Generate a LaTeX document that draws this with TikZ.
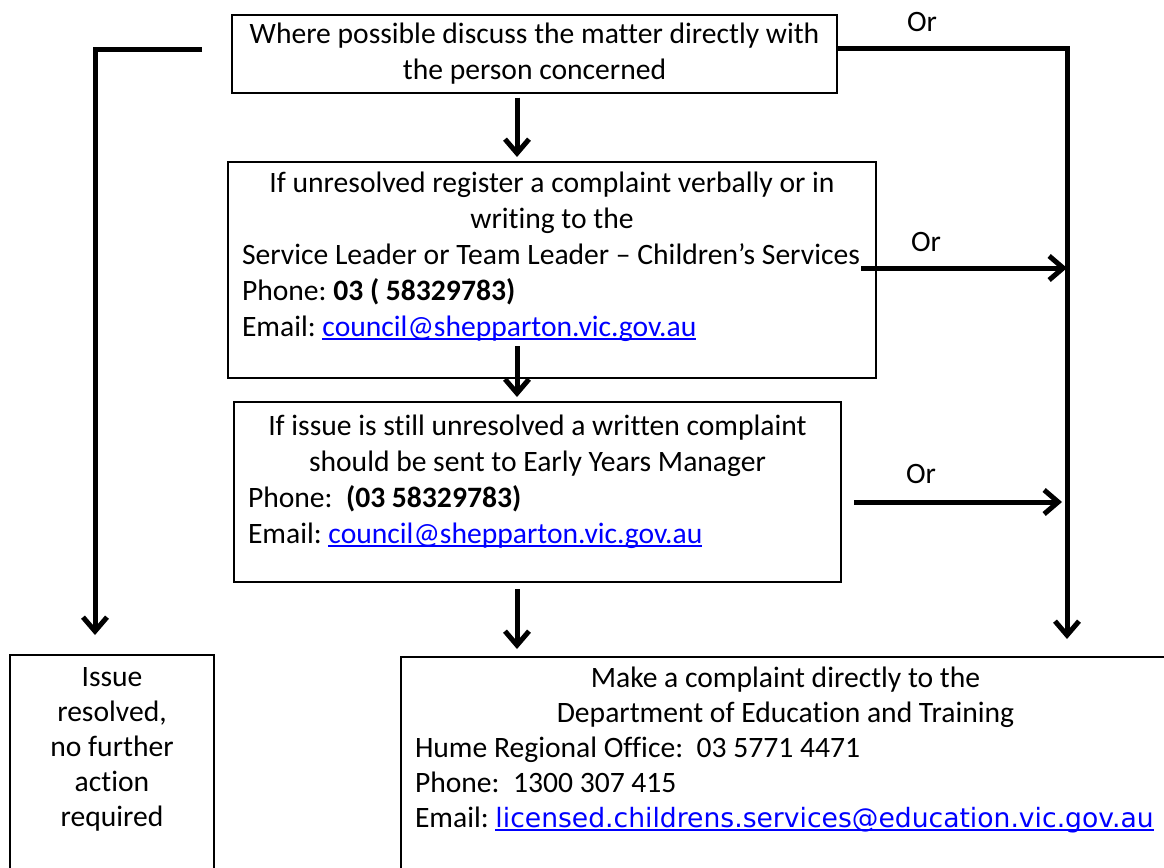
\documentclass[tikz,border=0pt]{standalone}
\usepackage{fontspec}
\setmainfont{Carlito}[Ligatures={TeX,NoCommon}]
\newfontfamily\mailfont{DejaVu Sans}
\usetikzlibrary{arrows.meta,calc}
\definecolor{linkblue}{RGB}{0,0,255}
\newcommand{\maillink}[1]{{\color{linkblue}\setbox0\hbox{#1}\rlap{\rule[-0.12em]{\wd0}{0.06em}}\box0}}
\frenchspacing

\begin{document}
\begin{tikzpicture}[x=0.5pt,y=-0.5pt,>={Straight Barb[length=7pt,width=12pt]},
  box/.style={draw,line width=1pt,inner xsep=7pt,inner ysep=4pt},
  flow/.style={->,line width=2.5pt},
  every node/.style={font=\fontsize{14.8}{18}\selectfont}]
  \useasboundingbox (0,0) rectangle (1164,868);
  \clip (0,0) rectangle (1164,868);
  % boxes
  \node[box,align=center,minimum width=302.5pt,minimum height=37pt] (b1) at (534.5,54)
    {Where possible discuss the matter directly with\\the person concerned};
  \node[box] (b2) at (552,270) {\parbox[c][100pt][t]{310pt}{\raggedright\vspace*{1pt}
    {\centering If unresolved register a complaint verbally or in\\writing to the\par}
    \mbox{Service Leader or Team Leader – Children’s Services}\\
    Phone: \textbf{03 ( 58329783)}\\
    Email: \maillink{council@shepparton.vic.gov.au}}};
  \node[box] (b3) at (537.5,492) {\parbox[c][82pt][t]{289.5pt}{\raggedright\vspace*{2.5pt}
    {\centering If issue is still unresolved a written complaint\\should be sent to Early Years Manager\par}
    Phone:\ \ \textbf{(03 58329783)}\\
    Email: \maillink{council@shepparton.vic.gov.au}}};
  \node[box] (b4) at (112,777.5) {\parbox[c][114.5pt][t]{88pt}{\fontsize{14.8}{17.5}\selectfont\centering\vspace*{2.5pt}
    Issue\\resolved,\\no further\\action\\required}};
  \node[box] (b5) at (785.5,778.5) {\parbox[c][113.5pt][t]{370.5pt}{\fontsize{14.8}{17.5}\selectfont\raggedright\vspace*{1pt}
    {\centering Make a complaint directly to the\\Department of Education and Training\par}
    Hume Regional Office:\ \ 03 5771 4471\\
    Phone:\ \ 1300 307 415\\
    \mbox{Email: {\mailfont\fontsize{13.3}{17.5}\selectfont\maillink{licensed.childrens.services@education.vic.gov.au}}}}};
  % connectors
  \coordinate (spine) at (517,0);
  \coordinate (rail) at (1067,0);
  \draw[flow] ($(spine |- b1.south)+(0,4)$) -- ($(spine |- b2.north)+(0,-4)$);
  \draw[flow] ($(spine |- b2.south)+(0,-33)$) -- ($(spine |- b3.north)+(0,-4)$);
  \draw[flow] ($(spine |- b3.south)+(0,6)$) -- ($(spine |- b5.north)+(0,-7)$);
  \draw[flow] ($(b1.west)+(-29,-5)$) -| ($(b4.north)+(-17,-19)$);
  \draw[flow] ($(b1.east)+(0,-6)$) -| ($(rail |- b5.north)+(0,-17)$);
  \draw[flow] ($(b2.east)+(-16,-2)$) -- ($(rail |- b2.east)+(0,-2)$);
  \draw[flow] ($(b3.east)+(12,10)$) -- ($(rail |- b3.east)+(-5,10)$);
  % labels
  \node (or1) at (922,22) {Or};
  \node (or2) at (926,242) {Or};
  \node (or3) at (921,474) {Or};
\end{tikzpicture}
\end{document}
